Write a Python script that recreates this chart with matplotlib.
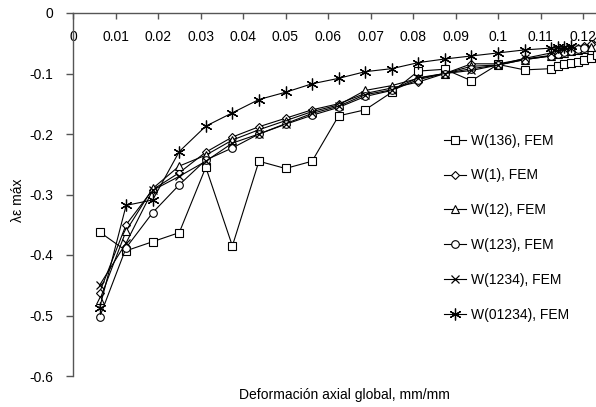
import matplotlib
matplotlib.use("Agg")
import matplotlib.pyplot as plt

plt.rcParams['font.family'] = ['Liberation Sans', 'DejaVu Sans']
plt.rcParams['font.size'] = 10

# Global axial strain steps shared by all models
strain = [0.00625, 0.0125, 0.01875, 0.025, 0.03125, 0.0375, 0.04375, 0.05,
          0.05625, 0.0625, 0.06875, 0.075, 0.08125, 0.0875, 0.09375, 0.1,
          0.10625, 0.1125]
# Fine steps after the last coarse increment
strain_tail = [0.1141, 0.1156, 0.1172, 0.1188, 0.1203, 0.1219, 0.1234]

w136 = [-0.362, -0.393, -0.378, -0.363, -0.255, -0.385, -0.245, -0.257, -0.245,
        -0.170, -0.160, -0.131, -0.096, -0.093, -0.112, -0.085, -0.094, -0.092,
        -0.088, -0.085, -0.083, -0.081, -0.078, -0.075, -0.070]
w1 = [-0.462, -0.350, -0.292, -0.264, -0.230, -0.205, -0.188, -0.174, -0.160,
      -0.150, -0.133, -0.124, -0.114, -0.100, -0.084, -0.084, -0.076, -0.070,
      -0.067, -0.064, -0.061, -0.058, -0.055, -0.051, -0.045]
w12 = [-0.475, -0.360, -0.290, -0.253, -0.235, -0.210, -0.193, -0.178, -0.163,
       -0.152, -0.128, -0.120, -0.108, -0.100, -0.088, -0.086, -0.077, -0.071,
       -0.068, -0.066, -0.063, -0.061, -0.059, -0.056]
w123 = [-0.503, -0.388, -0.330, -0.284, -0.243, -0.223, -0.200, -0.184, -0.169,
        -0.156, -0.138, -0.128, -0.110, -0.100, -0.092, -0.086, -0.077, -0.071,
        -0.068, -0.065, -0.063, -0.060, -0.058]
w1234 = [-0.450, -0.380, -0.293, -0.270, -0.245, -0.215, -0.200, -0.183, -0.166,
         -0.154, -0.135, -0.127, -0.107, -0.100, -0.095, -0.086, -0.075, -0.066,
         -0.062, -0.060, -0.058]
w01234 = [-0.488, -0.318, -0.309, -0.229, -0.187, -0.165, -0.143, -0.131, -0.117,
          -0.108, -0.097, -0.092, -0.082, -0.076, -0.071, -0.066, -0.061, -0.058,
          -0.057, -0.056, -0.055]

labels = ["W(136), FEM", "W(1), FEM", "W(12), FEM", "W(123), FEM",
          "W(1234), FEM", "W(01234), FEM"]
series = [w136, w1, w12, w123, w1234, w01234]

asterisk = (6, 2, 0)
styles = [
    dict(marker='s', ms=5.2),
    dict(marker='D', ms=4.5),
    dict(marker='^', ms=5.8),
    dict(marker='o', ms=5.5),
    dict(marker='x', ms=6.0, mew=0.9),
    dict(marker=asterisk, ms=8.5, mew=0.9),
]

fig = plt.figure(figsize=(5.96, 4.07), dpi=100)
# plot area runs past the right edge of the figure
ax = fig.add_axes([73 / 596, 1 - 376 / 407, (0.13 * 4250) / 596, 363 / 407])

full_x = strain + strain_tail
handles = []
for ys, lab, st in zip(series, labels, styles):
    xs = full_x[:len(ys)]
    kw = dict(color='black', lw=0.8, mfc='white', mec='black', mew=0.8)
    kw.update(st)
    h, = ax.plot(xs, ys, label=lab, **kw)
    handles.append(h)

ax.set_xlim(0, 0.13)
ax.set_ylim(-0.6, 0)
ax.set_xticks([i * 0.01 for i in range(14)])
ax.set_xticklabels(['0' if i == 0 else f"{i * 0.01:g}" for i in range(14)])
ax.set_yticks([-0.6, -0.5, -0.4, -0.3, -0.2, -0.1, 0])
ax.set_yticklabels(['-0.6', '-0.5', '-0.4', '-0.3', '-0.2', '-0.1', '0'])

for s in ['top', 'right']:
    ax.spines[s].set_visible(False)
ax.spines['bottom'].set_position(('data', 0))
for s in ['left', 'bottom']:
    ax.spines[s].set_color('#555555')
    ax.spines[s].set_linewidth(1.0)
ax.tick_params(axis='x', direction='out', length=4, width=1, color='#555555',
               pad=8, labelsize=10, labelcolor='black')
ax.tick_params(axis='y', direction='out', length=5, width=1, color='#555555',
               pad=9, labelsize=10)
ax.patch.set_visible(False)

fig.text(18 / 596, 1 - 200 / 407, "λε máx", rotation=90, ha='center',
         va='center', fontsize=10)
fig.text(344 / 596, 1 - 395 / 407, "Deformación axial global, mm/mm",
         ha='center', va='center', fontsize=10)

fig.legend(handles=handles, loc='upper left',
           bbox_to_anchor=(438 / 596, 1 - 128 / 407), frameon=False,
           handlelength=1.65, handletextpad=0.35, labelspacing=1.5,
           borderaxespad=0, fontsize=10)

fig.savefig("out.png", dpi=100)
